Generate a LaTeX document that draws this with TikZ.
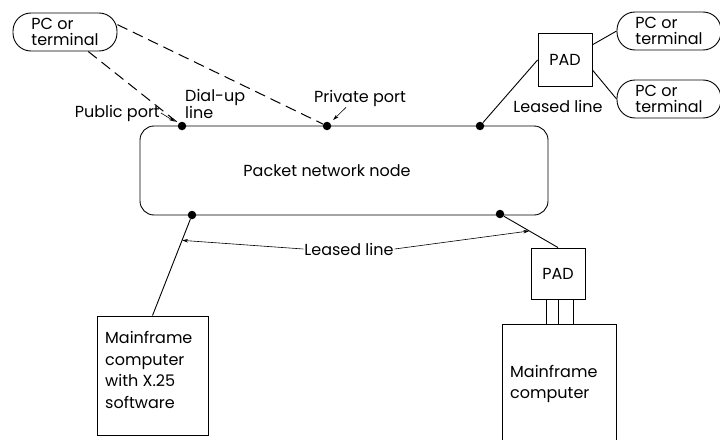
\documentclass[tikz,border=0pt]{standalone}
\usepackage{fontspec}
\setmainfont{Poppins}
\usetikzlibrary{arrows.meta,calc}
\begin{document}
\begin{tikzpicture}[x=1pt,y=-1pt,
  every node/.style={font=\fontsize{16}{16}\selectfont},
  pill/.style={draw,line width=0.9pt,rounded corners=18pt,minimum width=104pt,minimum height=38pt,align=left,inner sep=0pt,font=\fontsize{16}{16}\selectfont},
  boxn/.style={draw,line width=0.9pt,inner sep=0pt},
  port/.style={circle,fill=black,inner sep=0pt,minimum size=8.5pt},
  conn/.style={line width=0.9pt},
  dsh/.style={line width=1pt,dash pattern=on 11pt off 6pt},
  lbl/.style={inner sep=1pt,align=left},
  arr/.style={line width=0.6pt,-{Stealth[length=6pt,width=3.5pt]}}]
\useasboundingbox (0,0) rectangle (720,439);
% network node
\node[boxn,rounded corners=14pt,minimum width=408pt,minimum height=89pt] (net) at (344,170.5) {};
\node[lbl] (netl) at (327,171) {Packet network node};
% ports
\node[port] (pub) at (182,126) {};
\node[port] (priv) at (327,126) {};
\node[port] (tr) at (480,126) {};
\node[port] (bl) at (192,215) {};
\node[port] (br) at (500,214) {};
% terminals
\node[pill] (pc1) at (65,32) {PC or\\terminal};
\node[pill] (pc2) at (669,31) {PC or\\terminal};
\node[pill] (pc3) at (669,99) {PC or\\terminal};
% PADs
\node[boxn,minimum width=54pt,minimum height=53pt] (pad1) at (565,60) {PAD};
\node[boxn,minimum width=54pt,minimum height=51pt] (pad2) at (558,273.5) {PAD};
% mainframes
\node[boxn,minimum width=111pt,minimum height=119pt] (mf1) at (152.5,375.5) {};
\node[lbl,anchor=west,font=\fontsize{16}{21.5}\selectfont] (mf1l) at (104,370) {Mainframe\\computer\\with X.25\\software};
\node[boxn,minimum width=114pt,minimum height=130pt] (mf2) at (559,389) {};
\node[lbl,anchor=west,font=\fontsize{16}{21.5}\selectfont] (mf2l) at (509,384) {Mainframe\\computer};
% labels
\node[lbl,anchor=east] (publ) at (161,113) {Public port};
\node[lbl,anchor=west,font=\fontsize{16}{15}\selectfont] (dial) at (184,104) {Dial-up\\line};
\node[lbl] (privl) at (360,98) {Private port};
\node[lbl] (ll1) at (558,106) {Leased line};
\node[lbl] (ll2) at (349,249) {Leased line};
% dial-up lines
\draw[dsh] (pc1.-40) -- (pub);
\draw[dsh] (pc1.8) -- (priv);
% leased to PAD1
\draw[conn] (tr) -- (pad1.west);
\draw[conn] (pad1.29) -- (pc2.west);
\draw[conn] (pad1.-20) -- (pc3.west);
% bottom
\draw[conn] (bl) -- coordinate[pos=0.22] (la) (mf1.north);
\draw[conn] (br) -- coordinate[pos=0.47] (ra) (pad2.north);
\draw[conn] (pad2.south) ++(-12,0) coordinate (p1) -- (p1 |- mf2.north);
\draw[conn] (pad2.south) coordinate (p2) -- (p2 |- mf2.north);
\draw[conn] (pad2.south) ++(15,0) coordinate (p3) -- (p3 |- mf2.north);
% arrows
\draw[arr] (ll2.west) -- (la);
\draw[arr] (ll2.east) -- (ra);
\draw[arr,shorten >=4pt] (publ.east) -- (pub);
\draw[arr,shorten >=4pt] ($(privl.south)+(-14,0)$) -- (priv);
\end{tikzpicture}
\end{document}
